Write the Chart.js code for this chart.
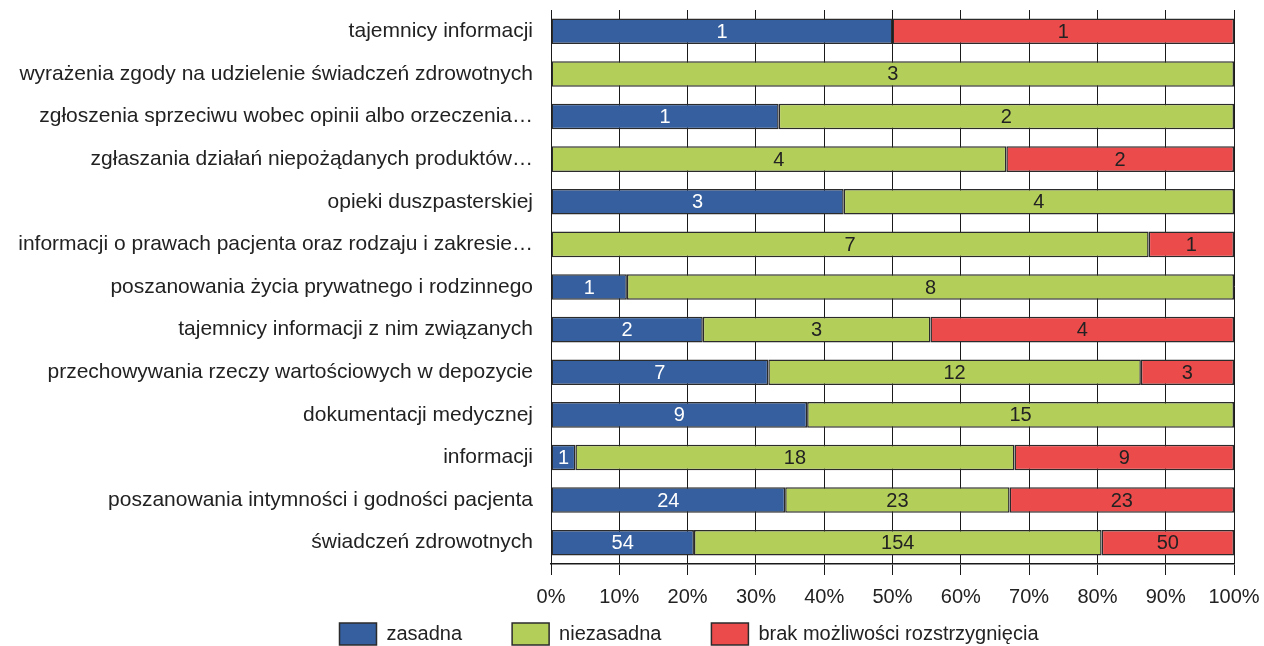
<!DOCTYPE html>
<html>
<head>
<meta charset="utf-8">
<script src="https://cdn.jsdelivr.net/npm/chart.js@4"></script>
<style>
  html, body { margin: 0; padding: 0; background: #fff; }
  #wrap { width: 1264px; height: 646px; position: relative; }
</style>
</head>
<body>
<div id="wrap"><canvas id="skargiChart"></canvas></div>
<script>
const categories = [
  'tajemnicy informacji',
  'wyrażenia zgody na udzielenie świadczeń zdrowotnych',
  'zgłoszenia sprzeciwu wobec opinii albo orzeczenia…',
  'zgłaszania działań niepożądanych produktów…',
  'opieki duszpasterskiej',
  'informacji o prawach pacjenta oraz rodzaju i zakresie…',
  'poszanowania życia prywatnego i rodzinnego',
  'tajemnicy informacji z nim związanych',
  'przechowywania rzeczy wartościowych w depozycie',
  'dokumentacji medycznej',
  'informacji',
  'poszanowania intymności i godności pacjenta',
  'świadczeń zdrowotnych'
];
const zasadna     = [1, 0, 1, 0, 3, 0, 1, 2, 7, 9, 1, 24, 54];
const niezasadna  = [0, 3, 2, 4, 4, 7, 8, 3, 12, 15, 18, 23, 154];
const brak        = [1, 0, 0, 2, 0, 1, 0, 4, 3, 0, 9, 23, 50];
const xTicks = [0, 10, 20, 30, 40, 50, 60, 70, 80, 90, 100];

const totals = categories.map((c, i) => zasadna[i] + niezasadna[i] + brak[i]);
const pct = arr => arr.map((v, i) => v / totals[i] * 100);

const FONT = '"Liberation Sans", Arial, sans-serif';

// etykiety z liczbami na słupkach
const barLabels = {
  id: 'barLabels',
  afterDatasetsDraw(chart) {
    const ctx = chart.ctx;
    ctx.save();
    ctx.font = '20px ' + FONT;
    ctx.textAlign = 'center';
    ctx.textBaseline = 'middle';
    chart.data.datasets.forEach((ds, di) => {
      const meta = chart.getDatasetMeta(di);
      meta.data.forEach((bar, i) => {
        const n = ds.counts[i];
        if (!n) return;
        const p = bar.getProps(['x', 'y', 'base'], true);
        ctx.fillStyle = ds.labelColor;
        ctx.fillText(String(n), (p.x + p.base) / 2, p.y + 1);
      });
    });
    ctx.restore();
  }
};

// legenda przesunięta w prawo i w górę jak na oryginale
const legendShift = {
  id: 'legendShift',
  afterLayout(chart) {
    const l = chart.legend;
    l.left += 72; l.right += 72;
    l.top -= 46;
    l.bottom = l.top + 82;
    l.height = 82;
  }
};

const ctx = document.getElementById('skargiChart').getContext('2d');
new Chart(ctx, {
  type: 'bar',
  data: {
    labels: categories,
    datasets: [
      { label: 'zasadna', data: pct(zasadna), counts: zasadna, backgroundColor: '#355f9e', labelColor: '#ffffff' },
      { label: 'niezasadna', data: pct(niezasadna), counts: niezasadna, backgroundColor: '#b4ce5a', labelColor: '#222222' },
      { label: 'brak możliwości rozstrzygnięcia', data: pct(brak), counts: brak, backgroundColor: '#ec4b4c', labelColor: '#222222' }
    ].map(d => Object.assign(d, {
      borderColor: '#2b2b2b',
      borderWidth: 1.5,
      borderSkipped: false,
      categoryPercentage: 1,
      barPercentage: 0.6
    }))
  },
  options: {
    indexAxis: 'y',
    responsive: true,
    maintainAspectRatio: false,
    animation: false,
    layout: { padding: { top: 10, right: 30, left: 0, bottom: -11 } },
    plugins: {
      legend: {
        position: 'bottom',
        maxHeight: 38,
        labels: {
          boxWidth: 37,
          boxHeight: 22,
          padding: 50,
          color: '#222',
          font: { size: 20, family: FONT }
        }
      },
      tooltip: { enabled: false }
    },
    scales: {
      x: {
        stacked: true,
        min: 0,
        max: 100,
        afterBuildTicks: s => { s.ticks = xTicks.map(v => ({ value: v })); },
        afterFit: s => { s.paddingLeft = 0; s.paddingRight = 0; },
        ticks: {
          color: '#222',
          padding: 10,
          maxRotation: 0,
          font: { size: 20, family: FONT },
          callback: v => v + '%'
        },
        grid: { color: '#1a1a1a', lineWidth: 1, tickLength: 11 },
        border: { color: '#1a1a1a', width: 1.5 }
      },
      y: {
        stacked: true,
        afterFit: s => { s.width = 551; s.paddingTop = 0; s.paddingBottom = 0; },
        ticks: {
          color: '#222',
          padding: 18,
          font: { size: 21, family: FONT }
        },
        grid: { display: false, drawTicks: false },
        border: { color: '#1a1a1a', width: 1 }
      }
    }
  },
  plugins: [barLabels, legendShift]
});
</script>
</body>
</html>
